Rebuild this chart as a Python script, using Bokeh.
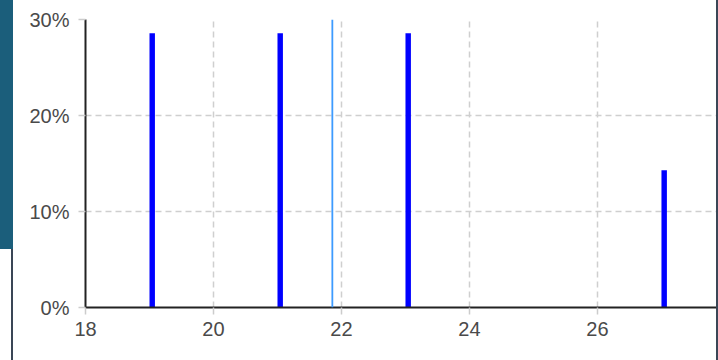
from bokeh.plotting import figure
from bokeh.models import FixedTicker, NumeralTickFormatter, Span, Range1d, Div
from bokeh.layouts import row
from bokeh.embed import file_html
from bokeh.resources import INLINE

# data
values = [19, 21, 23, 27]
counts = [2, 2, 2, 1]
x_ticks = [18, 20, 22, 24, 26, 28]
y_ticks = [0, 0.1, 0.2, 0.3]

total = sum(counts)
share = [c / total for c in counts]
mean_value = sum(v * c for v, c in zip(values, counts)) / total

BAR_W = 0.085

p = figure(width=703, height=360, output_backend="svg", toolbar_location=None,
           x_range=Range1d(18, 27.86), y_range=Range1d(0, 0.30),
           min_border_left=72, min_border_right=0, min_border_top=19, min_border_bottom=53,
           background_fill_color="white", border_fill_color="white", margin=0)
p.outline_line_color = None

# grid
for g in (p.xgrid, p.ygrid):
    g.grid_line_color = "#cfcfcf"
    g.grid_line_dash = "6 4"
    g.grid_line_width = 1.5
p.xgrid.ticker = FixedTicker(ticks=x_ticks)
p.ygrid.ticker = FixedTicker(ticks=y_ticks)

# bars
p.quad(left=values, right=[v + BAR_W for v in values], bottom=0, top=share,
       fill_color="#0000ff", line_color=None)

# mean line
p.add_layout(Span(location=mean_value, dimension="height", line_color="#3d9bff", line_width=1.8))

# axes
p.xaxis.ticker = FixedTicker(ticks=x_ticks)
p.yaxis.ticker = FixedTicker(ticks=y_ticks)
p.yaxis.formatter = NumeralTickFormatter(format="0%")
for ax in (p.xaxis, p.yaxis):
    ax.axis_line_color = "#222222"
    ax.axis_line_width = 2
    ax.major_tick_line_color = "#cccccc"
    ax.major_tick_line_width = 1.5
    ax.major_tick_in = 0
    ax.major_tick_out = 7
    ax.minor_tick_line_color = None
    ax.major_label_text_font = "Liberation Sans"
    ax.major_label_text_font_size = "20px"
    ax.major_label_text_color = "#4a4a4a"
p.xaxis.major_label_standoff = 7
p.yaxis.major_label_standoff = 9

# page decoration (left panel and right border)
left_panel = Div(width=13, height=360, margin=0,
                 text='<div style="width:13px;height:249px;background:#1b5e7b"></div>'
                      '<div style="margin-left:11px;width:2px;height:111px;background:#3a4656"></div>')
right_border = Div(width=2, height=360, margin=0,
                   text='<div style="width:2px;height:360px;background:#3a4656"></div>')

layout = row(left_panel, p, right_border, spacing=0)

open("out.html", "w").write(file_html(layout, INLINE))
